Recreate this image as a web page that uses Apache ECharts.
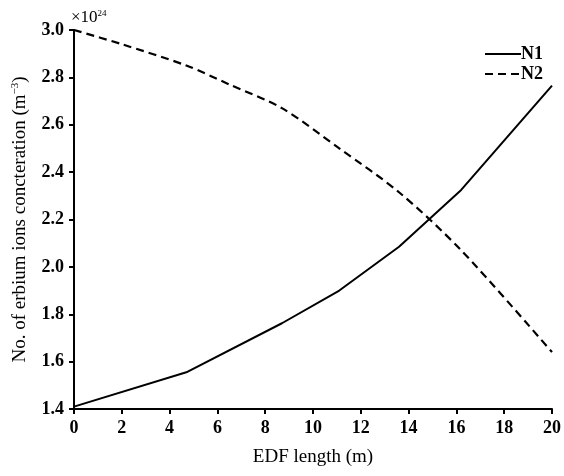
<!DOCTYPE html>
<html>
<head>
<meta charset="utf-8">
<script src="https://cdn.jsdelivr.net/npm/echarts@6/dist/echarts.min.js"></script>
<style>html,body{margin:0;padding:0;background:#fff}#c{width:564px;height:476px}</style>
</head>
<body>
<div id="c"></div>
<script>
var n1X = [0, 4.7, 8.7, 11.1, 13.6, 16.2, 20];
var n1Y = [1.41, 1.555, 1.762, 1.90, 2.085, 2.325, 2.765];
var n2X = [0, 2, 4.7, 6.5, 8.7, 11.1, 13.6, 16.2, 20];
var n2Y = [3.0, 2.94, 2.85, 2.77, 2.67, 2.50, 2.315, 2.07, 1.64];
var xTicks = [0, 2, 4, 6, 8, 10, 12, 14, 16, 18, 20];
var yTicks = [1.4, 1.6, 1.8, 2.0, 2.2, 2.4, 2.6, 2.8, 3.0];

function pairs(xs, ys) { return xs.map(function (x, i) { return [x, ys[i]]; }); }

var font = 'Liberation Serif';
var chart = echarts.init(document.getElementById('c'));
chart.setOption({
  animation: false,
  backgroundColor: '#fff',
  textStyle: { fontFamily: font, color: '#000' },
  grid: { left: 74, right: 10, top: 30, bottom: 67, containLabel: false },
  legend: {
    left: 479, top: 40, orient: 'vertical', itemWidth: 36, itemHeight: 12, itemGap: 2,
    itemStyle: { opacity: 0 },
    textStyle: { fontFamily: font, fontSize: 18, fontWeight: 'bold', color: '#000', padding: [0, 0, 0, -5] },
    data: ['N1', 'N2']
  },
  xAxis: {
    type: 'value', min: 0, max: 20, interval: 2,
    name: 'EDF length (m)', nameLocation: 'middle', nameGap: 39,
    nameTextStyle: { fontFamily: font, fontSize: 19, color: '#000' },
    axisLine: { lineStyle: { color: '#000', width: 2 } },
    axisTick: { length: 5, lineStyle: { color: '#000', width: 2 } },
    axisLabel: { fontFamily: font, fontSize: 18, fontWeight: 'bold', color: '#000', margin: 10,
      formatter: function (v) { return xTicks.indexOf(v) >= 0 ? String(v) : ''; } },
    splitLine: { show: false }
  },
  yAxis: {
    type: 'value', min: 1.4, max: 3.0, interval: 0.2,
    name: 'No. of erbium ions concteration (m{s|−3})', nameLocation: 'middle', nameGap: 43,
    nameTextStyle: { fontFamily: font, fontSize: 19, color: '#000',
      rich: { s: { fontFamily: font, fontSize: 11, verticalAlign: 'top', padding: [0, 0, 10, 0] } } },
    axisLine: { show: true, lineStyle: { color: '#000', width: 2 } },
    axisTick: { show: true, length: 5, lineStyle: { color: '#000', width: 2 } },
    axisLabel: { fontFamily: font, fontSize: 18, fontWeight: 'bold', color: '#000', margin: 10,
      formatter: function (v) { return yTicks.some(function (t) { return Math.abs(t - v) < 1e-6; }) ? v.toFixed(1) : ''; } },
    splitLine: { show: false }
  },
  graphic: [{
    type: 'text', left: 71, top: 9,
    style: { text: '×10{s|24}', fontFamily: font, fontSize: 17, fill: '#000',
      rich: { s: { fontFamily: font, fontSize: 9, verticalAlign: 'top', padding: [0, 0, 9, 0] } } }
  }],
  series: [
    { name: 'N1', type: 'line', data: pairs(n1X, n1Y), symbol: 'none', smooth: false,
      lineStyle: { color: '#000', width: 2 }, itemStyle: { color: '#000' } },
    { name: 'N2', type: 'line', data: pairs(n2X, n2Y), symbol: 'none', smooth: 0.3,
      lineStyle: { color: '#000', width: 2.2, type: [8, 5] }, itemStyle: { color: '#000' } }
  ]
});
</script>
</body>
</html>
